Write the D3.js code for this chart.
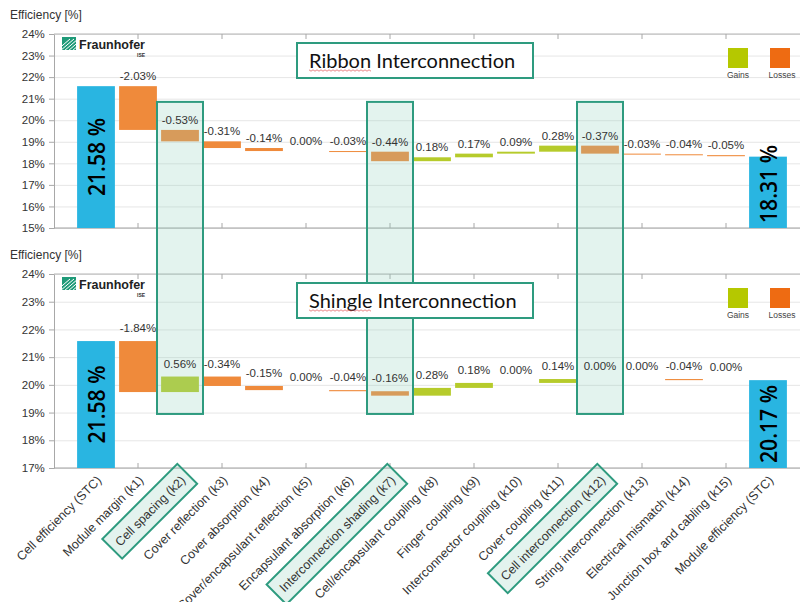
<!DOCTYPE html>
<html>
<head>
<meta charset="utf-8">
<script src="https://cdn.jsdelivr.net/npm/d3@7"></script>
<style>
    body { margin: 0; background: #fff; }
    svg { display: block; font-family: "Liberation Sans", Arial, sans-serif; }
</style>
</head>
<body>
<div class="chart-container"></div>
<script>
// Data
const categories = [
    'Cell efficiency (STC)', 'Module margin (k1)', 'Cell spacing (k2)', 'Cover reflection (k3)',
    'Cover absorption (k4)', 'Cover/encapsulant reflection (k5)', 'Encapsulant absorption (k6)',
    'Interconnection shading (k7)', 'Cell/encapsulant coupling (k8)', 'Finger coupling (k9)',
    'Interconnector coupling (k10)', 'Cover coupling (k11)', 'Cell interconnection (k12)',
    'String interconnection (k13)', 'Electrical mismatch (k14)', 'Junction box and cabling (k15)',
    'Module efficiency (STC)'
];
const cellEfficiency = 21.58;
const ribbonSteps = [-2.03, -0.53, -0.31, -0.14, 0.00, -0.03, -0.44, 0.18, 0.17, 0.09, 0.28, -0.37, -0.03, -0.04, -0.05];
const ribbonModule = 18.31;
const shingleSteps = [-1.84, 0.56, -0.34, -0.15, 0.00, -0.04, -0.16, 0.28, 0.18, 0.00, 0.14, 0.00, 0.00, -0.04, 0.00];
const shingleModule = 20.17;
const ribbonTicks = [15, 16, 17, 18, 19, 20, 21, 22, 23, 24];
const shingleTicks = [17, 18, 19, 20, 21, 22, 23, 24];
const highlighted = ['Cell spacing (k2)', 'Interconnection shading (k7)', 'Cell interconnection (k12)'];
const legendItems = ['Gains', 'Losses'];

// Colours
const colors = {
    total: '#29b5e1',
    loss: '#ef8a3b',
    gain: '#b6cb2b',
    legendGain: '#b5c800',
    legendLoss: '#ee6b12',
    teal: '#2e9b7f',
    highlight: '#8fd0bd'
};

// Build waterfall rows
function buildWaterfall(start, steps, end) {
    const rows = [{cat: categories[0], type: 'total', value: start}];
    let running = start;
    steps.forEach((d, i) => {
        rows.push({cat: categories[i + 1], type: d < 0 ? 'loss' : 'gain', delta: d, y0: running, y1: running + d});
        running += d;
    });
    rows.push({cat: categories[categories.length - 1], type: 'total', value: end});
    return rows;
}

const width = 800;
const height = 602;
const plotLeft = 54;
const plotRight = 800;

const svg = d3.select('.chart-container')
    .append('svg')
    .attr('width', width)
    .attr('height', height);

// layers: chart base, highlight overlay, text on top
const baseLayer = svg.append('g');
const highlightLayer = svg.append('g');
const textLayer = svg.append('g');

const xScale = d3.scaleBand()
    .domain(categories)
    .range([75, 789])
    .paddingInner(0.1)
    .paddingOuter(0.05);
const bw = xScale.bandwidth();
const cx = c => xScale(c) + bw / 2;

const panels = [
    {title: 'Ribbon', rows: buildWaterfall(cellEfficiency, ribbonSteps, ribbonModule), ticks: ribbonTicks, top: 34, bottom: 228, labelGap: 6},
    {title: 'Shingle', rows: buildWaterfall(cellEfficiency, shingleSteps, shingleModule), ticks: shingleTicks, top: 274, bottom: 468, labelGap: 9}
];

function drawPanel(p) {
    const y = d3.scaleLinear()
        .domain([d3.min(p.ticks), d3.max(p.ticks)])
        .range([p.bottom, p.top]);
    p.y = y;
    const g = baseLayer.append('g');

    // gridlines
    const grid = g.append('g')
        .attr('transform', `translate(${plotLeft},0)`)
        .call(d3.axisLeft(y).tickValues(p.ticks).tickSize(-(plotRight - plotLeft)).tickFormat(''));
    grid.select('.domain').remove();
    grid.selectAll('line').attr('stroke', '#e6e6e6');

    // left axis
    const yAxis = g.append('g')
        .attr('transform', `translate(${plotLeft},0)`)
        .call(d3.axisLeft(y).tickValues(p.ticks).tickSizeInner(5).tickSizeOuter(0).tickFormat(d => d + '%'));
    yAxis.select('.domain').attr('stroke', '#a8a8a8');
    yAxis.selectAll('line').attr('stroke', '#a8a8a8');
    yAxis.selectAll('text').attr('fill', '#333').style('font-size', '11.5px').attr('dx', '-0.1em');

    // top and bottom border with inward ticks
    const oddCats = categories.filter((d, i) => i % 2 === 1);
    [['bottom', p.bottom], ['top', p.top]].forEach(([side, yy]) => {
        g.append('line')
            .attr('x1', plotLeft).attr('x2', plotRight)
            .attr('y1', yy).attr('y2', yy)
            .attr('stroke', side === 'bottom' ? '#a0a0a0' : '#b4b4b4');
        const ax = side === 'bottom' ? d3.axisBottom(xScale) : d3.axisTop(xScale);
        const t = g.append('g')
            .attr('transform', `translate(0,${yy})`)
            .call(ax.tickValues(oddCats).tickSizeInner(-5).tickSizeOuter(0).tickFormat(''));
        t.select('.domain').remove();
        t.selectAll('line').attr('stroke', '#a8a8a8');
    });

    // bars
    g.selectAll('.bar')
        .data(p.rows)
        .enter()
        .append('rect')
        .attr('class', 'bar')
        .attr('x', d => xScale(d.cat))
        .attr('width', bw)
        .attr('y', d => d.type === 'total' ? y(d.value) : y(Math.max(d.y0, d.y1)))
        .attr('height', d => {
            if (d.type === 'total') return p.bottom - y(d.value);
            const h = Math.abs(y(d.y0) - y(d.y1));
            return d.delta === 0 ? 0 : Math.max(h, 1);
        })
        .attr('fill', d => colors[d.type]);

    // step labels (drawn above the highlight overlay)
    textLayer.selectAll('.step-label-' + p.title)
        .data(p.rows.filter(d => d.type !== 'total'))
        .enter()
        .append('text')
        .attr('x', d => cx(d.cat))
        .attr('y', d => y(Math.max(d.y0, d.y1)) - p.labelGap)
        .attr('text-anchor', 'middle')
        .attr('fill', '#333')
        .style('font-size', '11.5px')
        .text(d => d.delta.toFixed(2) + '%');

    // big values in the total bars, kept above the axis line
    g.selectAll('.total-label')
        .data(p.rows.filter(d => d.type === 'total'))
        .enter()
        .append('text')
        .attr('class', 'total-label')
        .attr('transform', d => {
            const mid = Math.min((y(d.value) + p.bottom) / 2, p.bottom - 44);
            return `translate(${cx(d.cat)},${mid}) rotate(-90)`;
        })
        .attr('text-anchor', 'middle')
        .attr('dy', '0.36em')
        .attr('textLength', 78)
        .attr('lengthAdjust', 'spacingAndGlyphs')
        .style('font-family', '"Open Sans", sans-serif')
        .style('font-size', '24px')
        .style('font-weight', 600)
        .attr('fill', '#000')
        .text(d => d.value.toFixed(2) + ' %');

    // axis title
    g.append('text')
        .attr('x', 10)
        .attr('y', p.top - 15)
        .attr('fill', '#333')
        .style('font-size', '12px')
        .text('Efficiency [%]');

    // logo
    const logo = g.append('g').attr('transform', `translate(62,${p.top + 3})`);
    const clipId = 'logo-clip-' + p.title;
    logo.append('clipPath').attr('id', clipId)
        .append('rect').attr('width', 14).attr('height', 13);
    logo.append('rect').attr('width', 14).attr('height', 13).attr('fill', '#1f9a78');
    logo.append('g').attr('clip-path', `url(#${clipId})`)
        .selectAll('line')
        .data([0, 4, 8, 12, 16])
        .enter()
        .append('line')
        .attr('x1', d => d - 6).attr('y1', 14)
        .attr('x2', d => d + 8).attr('y2', 2)
        .attr('stroke', '#fff')
        .attr('stroke-width', 1);
    logo.append('text')
        .attr('x', 17).attr('y', 12)
        .attr('fill', '#222')
        .style('font-size', '12.5px')
        .style('font-weight', 'bold')
        .text('Fraunhofer');
    logo.append('text')
        .attr('x', 75).attr('y', 20)
        .attr('fill', '#333')
        .style('font-size', '5px')
        .style('font-weight', 'bold')
        .text('ISE');

    // legend
    const legend = g.selectAll('.legend')
        .data(legendItems)
        .enter()
        .append('g')
        .attr('transform', (d, i) => `translate(${728 + i * 42},${p.top + 14})`);
    legend.append('rect')
        .attr('width', 20).attr('height', 20)
        .attr('fill', (d, i) => i === 0 ? colors.legendGain : colors.legendLoss);
    legend.append('text')
        .attr('x', (d, i) => i === 0 ? 10 : 12)
        .attr('y', 30)
        .attr('text-anchor', 'middle')
        .attr('fill', '#444')
        .style('font-size', '8.5px')
        .text(d => d);
}

panels.forEach(drawPanel);

// highlight columns spanning both charts
const yTop = panels[0].y;
const yBottom = panels[1].y;
highlightLayer.selectAll('.highlight')
    .data(highlighted)
    .enter()
    .append('rect')
    .attr('class', 'highlight')
    .attr('x', d => cx(d) - 23)
    .attr('width', 46)
    .attr('y', yTop(20.85))
    .attr('height', yBottom(18.95) - yTop(20.85))
    .attr('fill', colors.highlight)
    .attr('fill-opacity', 0.25)
    .attr('stroke', colors.teal)
    .attr('stroke-width', 2);

// title boxes
panels.forEach(p => {
    const tg = textLayer.append('g').attr('transform', `translate(297,${p.top + 9})`);
    tg.append('rect')
        .attr('width', 236).attr('height', 35)
        .attr('fill', '#fff')
        .attr('stroke', colors.teal)
        .attr('stroke-width', 2);
    const title = tg.append('text')
        .attr('x', 12).attr('y', 24.5)
        .attr('fill', '#111')
        .style('font-family', 'Lato, sans-serif')
        .style('font-size', '20px')
        .text(p.title + ' Interconnection');
    // spell-check squiggle under the first word
    const wordLen = title.node().getSubStringLength(0, p.title.length);
    const pts = d3.range(0, wordLen, 2).map((d, i) => [12 + d, 27 + (i % 2 ? 1.2 : -0.2)]);
    tg.append('path')
        .attr('d', d3.line()(pts))
        .attr('fill', 'none')
        .attr('stroke', '#e05050')
        .attr('stroke-width', 0.7);
});

// x axis labels under the bottom chart
const axisY = panels[1].bottom;
const xLabels = textLayer.selectAll('.x-label')
    .data(categories)
    .enter()
    .append('g')
    .attr('class', 'x-label')
    .attr('transform', d => `translate(${cx(d) + 3},${axisY + 10}) rotate(-45)`);
xLabels.append('text')
    .attr('text-anchor', 'end')
    .attr('dy', '0.35em')
    .attr('fill', '#333')
    .style('font-size', '12.5px')
    .text(d => d);
xLabels.filter(d => highlighted.includes(d)).each(function() {
    const gl = d3.select(this);
    const len = gl.select('text').node().getComputedTextLength();
    gl.insert('rect', 'text')
        .attr('x', -len - 7)
        .attr('y', -14)
        .attr('width', len + 13)
        .attr('height', 28)
        .attr('fill', colors.highlight)
        .attr('fill-opacity', 0.25)
        .attr('stroke', colors.teal)
        .attr('stroke-width', 2);
});
</script>
</body>
</html>
